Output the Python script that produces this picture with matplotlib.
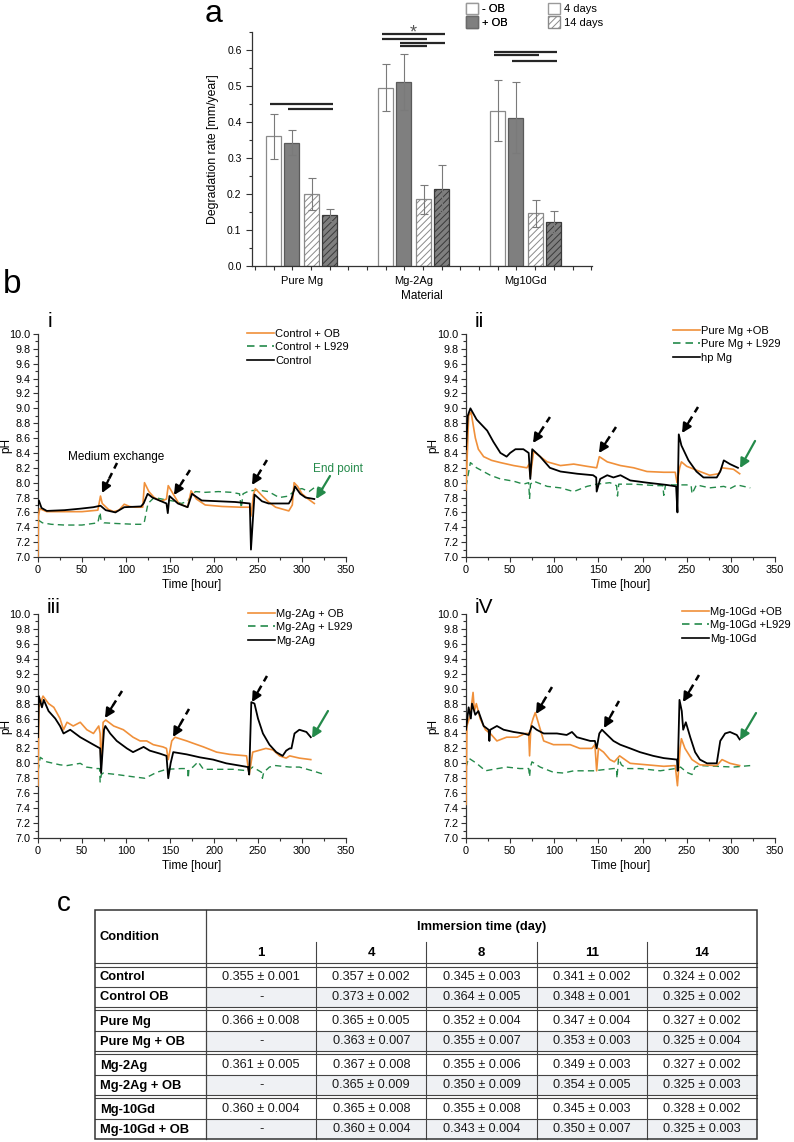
import matplotlib
matplotlib.use('Agg')
import matplotlib.pyplot as plt
from matplotlib.patches import Patch, Rectangle
from matplotlib.ticker import MultipleLocator, FixedLocator, FormatStrFormatter

plt.rcParams['font.family'] = ['Liberation Sans', 'DejaVu Sans']
plt.rcParams['hatch.linewidth'] = 0.7

# ---------------- DATA ----------------
# Panel a
materials = ['Pure Mg', 'Mg-2Ag', 'Mg10Gd']
rate_4d_noOB = [0.360, 0.495, 0.431]
err_4d_noOB = [0.063, 0.065, 0.085]
rate_4d_OB = [0.343, 0.511, 0.412]
err_4d_OB = [0.035, 0.078, 0.098]
rate_14d_noOB = [0.200, 0.185, 0.146]
err_14d_noOB = [0.045, 0.040, 0.038]
rate_14d_OB = [0.141, 0.215, 0.123]
err_14d_OB = [0.016, 0.066, 0.031]
# significance bars: (group, from bar, to bar, height)
sig_lines = [(0, 0, 3, 0.450), (0, 1, 3, 0.437),
             (1, 0, 3, 0.645), (1, 0, 2, 0.630), (1, 1, 3, 0.620), (1, 1, 2, 0.610),
             (2, 0, 3, 0.595), (2, 0, 2, 0.585), (2, 1, 3, 0.569)]

# Panel b (i) control
i_ob_t = [0, 0.5, 2, 10, 30, 50, 68, 71, 73, 80, 86, 92, 98, 104, 110, 119, 121, 126, 132, 140, 146, 148, 152, 160, 170,
          174, 180, 190, 209, 230, 241, 242, 245, 247, 255, 262, 270, 285, 289, 291, 295, 300, 307, 314]
i_ob_ph = [7.0, 7.55, 7.65, 7.61, 7.61, 7.61, 7.63, 7.82, 7.72, 7.64, 7.61, 7.63, 7.71, 7.68, 7.67, 7.67, 8.00, 7.88, 7.80,
           7.75, 7.78, 7.96, 7.88, 7.72, 7.67, 7.89, 7.78, 7.70, 7.68, 7.67, 7.67, 7.55, 7.85, 7.92, 7.82, 7.74, 7.67,
           7.62, 7.70, 8.00, 7.95, 7.85, 7.78, 7.72]
i_ctrl_t = [0, 1, 4, 10, 30, 48, 63, 71, 77, 88, 98, 117, 120, 124.6, 130, 140, 146, 147.5, 149.4, 159, 170, 175, 186, 205,
            224, 240.7, 242, 246, 254.5, 262, 285, 288, 292, 298, 304, 314]
i_ctrl_ph = [7.70, 7.76, 7.66, 7.62, 7.63, 7.65, 7.67, 7.69, 7.63, 7.60, 7.67, 7.68, 7.72, 7.85, 7.80, 7.75, 7.72, 7.59,
             7.82, 7.72, 7.67, 7.85, 7.76, 7.75, 7.74, 7.72, 7.10, 7.84, 7.75, 7.72, 7.72, 7.78, 7.95, 7.85, 7.80, 7.78]
i_l929_t = [0, 5, 15, 30, 50, 68, 70.5, 71.5, 75, 90, 110, 119, 121, 125, 132, 145, 155, 163, 170, 176, 179, 190, 205,
            220, 229, 231, 233, 240, 250, 262, 268, 274, 285, 292, 300, 308, 316, 327]
i_l929_ph = [7.50, 7.46, 7.44, 7.43, 7.43, 7.46, 7.60, 7.50, 7.46, 7.45, 7.44, 7.44, 7.48, 7.72, 7.80, 7.77, 7.75, 7.72,
             7.75, 7.85, 7.88, 7.87, 7.88, 7.87, 7.85, 7.66, 7.85, 7.89, 7.90, 7.88, 7.84, 7.80, 7.82, 7.90, 7.92, 7.88,
             7.95, 7.90]

# Panel b (ii) pure Mg
ii_ob_t = [0, 3, 5.7, 10.6, 14, 20, 29, 39, 54, 69, 71.5, 72.8, 76.6, 84, 92, 107, 122, 137, 148, 151, 160, 175, 190, 205,
           224, 237, 239, 242, 244, 250, 265, 276, 286, 290, 303, 310]
ii_ob_ph = [7.90, 8.90, 8.95, 8.60, 8.45, 8.35, 8.30, 8.27, 8.23, 8.20, 8.25, 8.08, 8.42, 8.35, 8.28, 8.23, 8.25, 8.22,
            8.20, 8.35, 8.28, 8.23, 8.20, 8.15, 8.14, 8.14, 8.00, 8.20, 8.28, 8.22, 8.15, 8.10, 8.12, 8.20, 8.18, 8.12]
ii_hp_t = [0, 2, 5, 12, 24, 31, 39, 46, 50, 56, 65, 71, 72.8, 75, 84, 95, 107, 126, 144, 147.5, 148, 152, 160, 167, 175,
           186, 205, 227, 238, 239.5, 241, 244, 252, 261, 269, 284, 288, 292, 299, 308]
ii_hp_ph = [8.45, 8.90, 9.00, 8.85, 8.70, 8.55, 8.40, 8.35, 8.40, 8.45, 8.45, 8.40, 8.05, 8.45, 8.35, 8.20, 8.15, 8.12,
            8.10, 8.07, 7.88, 8.05, 8.10, 8.07, 8.10, 8.03, 8.00, 7.97, 7.95, 7.60, 8.65, 8.50, 8.30, 8.15, 8.07, 8.07,
            8.15, 8.30, 8.25, 8.20]
ii_l929_t = [0, 5, 12, 27.5, 39, 54, 65, 71, 72, 73, 76.6, 92, 107, 122, 137, 148, 163, 170.5, 171.6, 173, 190, 216, 223,
             224, 226, 238, 250, 255, 256, 261, 276, 292, 299, 307, 322]
ii_l929_ph = [7.95, 8.27, 8.20, 8.10, 8.05, 8.02, 7.98, 8.00, 7.78, 7.98, 8.02, 7.95, 7.93, 7.88, 7.95, 7.98, 8.00, 7.96,
              7.82, 7.98, 7.98, 7.96, 7.96, 7.83, 7.97, 7.97, 7.97, 7.96, 7.85, 7.97, 7.93, 7.95, 7.92, 7.97, 7.93]

# Panel b (iii) Mg-2Ag
iii_ob_t = [0, 1, 5.7, 12, 18, 25, 29, 33, 40, 48, 55.5, 63, 69, 70.6, 71.7, 74, 77, 86, 97, 108, 116, 123.5, 131, 142,
            146, 148, 152, 155.6, 169, 176, 188, 203, 218, 237, 240, 244, 259, 267, 274.5, 282, 286, 297, 310]
iii_ob_ph = [7.70, 8.75, 8.90, 8.80, 8.75, 8.60, 8.45, 8.55, 8.50, 8.55, 8.45, 8.40, 8.50, 8.40, 7.95, 8.55, 8.58, 8.50,
             8.45, 8.35, 8.30, 8.30, 8.25, 8.22, 8.20, 8.05, 8.30, 8.35, 8.30, 8.27, 8.22, 8.15, 8.12, 8.10, 7.85, 8.15,
             8.20, 8.18, 8.10, 8.07, 8.10, 8.07, 8.05]
iii_ag_t = [0, 1, 4.5, 6.5, 12, 19.6, 25, 29, 36.6, 48, 55.5, 63, 70.6, 71.7, 75, 76.5, 82, 89.5, 101, 108, 120, 127,
            138.6, 146, 148, 150.7, 153.7, 169, 184, 199, 214, 229, 238.6, 240, 242.4, 246, 250, 255.6, 263, 270.7, 278,
            282, 286, 288, 291.5, 297, 305, 310]
iii_ag_ph = [8.35, 8.90, 8.75, 8.85, 8.70, 8.60, 8.50, 8.40, 8.45, 8.35, 8.30, 8.25, 8.20, 7.87, 8.45, 8.50, 8.40, 8.30,
             8.20, 8.15, 8.22, 8.17, 8.13, 8.10, 7.80, 8.00, 8.15, 8.12, 8.08, 8.05, 8.00, 7.97, 7.95, 7.85, 8.82, 8.80,
             8.60, 8.40, 8.25, 8.15, 8.10, 8.17, 8.20, 8.20, 8.40, 8.45, 8.42, 8.35]
iii_l929_t = [0, 2.6, 10, 25, 33, 48, 55, 67, 70, 70.6, 72, 74, 89.5, 108, 121.6, 135, 146, 163, 170, 170.7, 171.5, 176,
              182, 188, 222, 238.6, 244, 254, 255, 256.5, 263, 270, 286, 297, 312, 325.5]
iii_l929_ph = [7.90, 8.08, 8.02, 7.98, 7.97, 8.00, 7.95, 7.93, 7.93, 7.75, 7.85, 7.87, 7.85, 7.82, 7.80, 7.88, 7.92, 7.93,
               7.93, 7.80, 7.92, 7.95, 8.02, 7.92, 7.92, 7.90, 7.95, 7.88, 7.80, 7.88, 7.95, 7.97, 7.95, 7.95, 7.90, 7.85]

# Panel b (iv) Mg-10Gd
iv_ob_t = [0, 1, 5, 8, 9.5, 11.7, 16, 22, 27.5, 35, 46, 58, 67, 71, 72, 73.5, 76, 78.5, 83, 88, 99, 118, 129, 142.6, 146,
           148, 150, 155.8, 163, 168, 174, 186, 205, 224, 237, 239.5, 242.5, 244, 248, 256, 265, 284, 290, 299, 310]
iv_ob_ph = [7.45, 8.50, 8.65, 8.95, 8.70, 8.80, 8.60, 8.45, 8.40, 8.30, 8.35, 8.35, 8.40, 8.40, 8.10, 8.50, 8.60, 8.68,
            8.50, 8.30, 8.25, 8.25, 8.20, 8.20, 8.25, 7.90, 8.20, 8.15, 8.05, 8.02, 8.10, 8.00, 7.98, 7.96, 7.97, 7.70,
            8.20, 8.33, 8.20, 8.05, 7.98, 7.97, 8.05, 8.00, 7.97]
iv_gd_t = [0, 3, 5.5, 6.8, 10.5, 14, 20, 25.6, 26.5, 27.5, 35, 42.6, 54, 65, 71, 74.7, 80, 88, 103, 114, 120, 125.6,
           140.7, 146, 148, 151, 154, 160, 167, 174.6, 186, 197, 212, 224, 239, 239.8, 241.8, 244.4, 246, 249, 254,
           259.5, 265, 273, 284, 286, 288, 293.5, 299, 306.7, 310]
iv_gd_ph = [8.45, 8.75, 8.60, 8.80, 8.65, 8.70, 8.50, 8.45, 8.30, 8.45, 8.50, 8.45, 8.42, 8.40, 8.38, 8.50, 8.45, 8.40,
            8.40, 8.38, 8.42, 8.35, 8.30, 8.30, 8.20, 8.40, 8.45, 8.38, 8.30, 8.25, 8.20, 8.15, 8.10, 8.07, 8.05, 7.90,
            8.85, 8.70, 8.45, 8.55, 8.35, 8.15, 8.05, 8.00, 8.00, 8.15, 8.30, 8.40, 8.42, 8.38, 8.32]
iv_l929_t = [0, 3, 12, 22, 31, 46, 61, 71, 72, 73, 74.7, 84, 99, 110.5, 122, 144.5, 167, 170.5, 171, 172.8, 176, 182,
             197, 220, 237, 243, 250, 256, 259.5, 265, 284, 303, 322]
iv_l929_ph = [7.95, 8.07, 8.00, 7.90, 7.92, 7.95, 7.93, 7.93, 7.82, 7.95, 8.02, 7.95, 7.88, 7.87, 7.90, 7.90, 7.93, 7.93,
              7.80, 8.07, 7.98, 7.93, 7.93, 7.90, 7.93, 7.95, 7.88, 7.85, 7.95, 7.97, 7.96, 7.95, 7.97]

# Panel c table
conditions = ['Control', 'Control OB', 'Pure Mg', 'Pure Mg + OB', 'Mg-2Ag', 'Mg-2Ag + OB', 'Mg-10Gd', 'Mg-10Gd + OB']
days = [1, 4, 8, 11, 14]
day1_mean = [0.355, None, 0.366, None, 0.361, None, 0.360, None]
day1_sd = [0.001, None, 0.008, None, 0.005, None, 0.004, None]
day4_mean = [0.357, 0.373, 0.365, 0.363, 0.367, 0.365, 0.365, 0.360]
day4_sd = [0.002, 0.002, 0.005, 0.007, 0.008, 0.009, 0.008, 0.004]
day8_mean = [0.345, 0.364, 0.352, 0.355, 0.355, 0.350, 0.355, 0.343]
day8_sd = [0.003, 0.005, 0.004, 0.007, 0.006, 0.009, 0.008, 0.004]
day11_mean = [0.341, 0.348, 0.347, 0.353, 0.349, 0.354, 0.345, 0.350]
day11_sd = [0.002, 0.001, 0.004, 0.003, 0.003, 0.005, 0.003, 0.007]
day14_mean = [0.324, 0.325, 0.327, 0.325, 0.327, 0.325, 0.328, 0.325]
day14_sd = [0.002, 0.002, 0.002, 0.004, 0.002, 0.003, 0.002, 0.003]

# ---------------- FIGURE ----------------
W, H = 794, 1142
fig = plt.figure(figsize=(W / 100, H / 100), dpi=100)


def px_axes(l, t, r, b):
    return fig.add_axes([l / W, 1 - b / H, (r - l) / W, (b - t) / H])


def fxy(x, y):
    return (x / W, 1 - y / H)


ORANGE = '#f0903a'
GREEN = '#248a4a'
AXC = '#333333'

# ---------- panel a ----------
axa = px_axes(252, 32, 592, 266)
offs = [-0.25, -0.089, 0.089, 0.25]
bw = 0.134
xs = list(range(len(materials)))
ekw = dict(ecolor='#7a7a7a', elinewidth=0.8, capsize=3, capthick=0.8)
series = [
    (rate_4d_noOB, err_4d_noOB, 'white', '#8a8a8a', None),
    (rate_4d_OB, err_4d_OB, '#7f7f7f', '#5a5a5a', None),
    (rate_14d_noOB, err_14d_noOB, 'white', '#8a8a8a', '/////'),
    (rate_14d_OB, err_14d_OB, '#7f7f7f', '#3a3a3a', '/////'),
]
for k, (vals, errs, fc, ec, hatch) in enumerate(series):
    axa.bar([x + offs[k] for x in xs], vals, bw, color=fc, edgecolor=ec, hatch=hatch, linewidth=0.9,
            yerr=errs, error_kw=ekw, zorder=2)
for g, i0, i1, yv in sig_lines:
    axa.plot([g + offs[i0] - 0.03, g + offs[i1] + 0.03], [yv, yv], color='#262626', lw=1.6, clip_on=False,
             solid_capstyle='butt')
axa.text(1.0, 0.648, '*', ha='center', va='center', fontsize=13, color='#555', clip_on=False)
axa.set_xlim(-0.442, 2.59)
axa.set_ylim(0, 0.65)
axa.set_xticks(xs)
axa.set_xticklabels(materials, fontsize=8)
axa.xaxis.set_minor_locator(FixedLocator([(2 * k + 1) / 12 for k in range(-5, 31)]))
axa.tick_params(axis='x', which='major', length=0, pad=7)
axa.tick_params(axis='x', which='minor', length=3, width=0.8, color=AXC)
axa.yaxis.set_major_locator(MultipleLocator(0.1))
axa.yaxis.set_minor_locator(MultipleLocator(0.05))
axa.yaxis.set_major_formatter(FormatStrFormatter('%.1f'))
axa.tick_params(axis='y', which='major', length=4, width=0.8, labelsize=7.5, color=AXC)
axa.tick_params(axis='y', which='minor', length=2, width=0.8, color=AXC)
for s in ['top', 'right']:
    axa.spines[s].set_visible(False)
for s in ['left', 'bottom']:
    axa.spines[s].set_color(AXC)
    axa.spines[s].set_linewidth(0.9)
axa.set_ylabel('Degradation rate [mm/year]', fontsize=8.8, labelpad=6)
axa.set_xlabel('Material', fontsize=8.5, labelpad=3)

leg1 = fig.legend(handles=[Patch(facecolor='white', edgecolor='#9a9a9a'),
                           Patch(facecolor='#7f7f7f', edgecolor='#6a6a6a')],
                  labels=['- OB', '+ OB'], loc='upper left', bbox_to_anchor=fxy(466, 3), frameon=False,
                  fontsize=8, handlelength=1.1, handleheight=1.2, handletextpad=0.35, labelspacing=0.15,
                  borderpad=0, borderaxespad=0)
leg2 = fig.legend(handles=[Patch(facecolor='white', edgecolor='#9a9a9a'),
                           Patch(facecolor='white', edgecolor='#8a8a8a', hatch='/////')],
                  labels=['4 days', '14 days'], loc='upper left', bbox_to_anchor=fxy(548, 3), frameon=False,
                  fontsize=8, handlelength=1.1, handleheight=1.2, handletextpad=0.35, labelspacing=0.15,
                  borderpad=0, borderaxespad=0)
fig.add_artist(leg1)

fig.text(*fxy(205, 22), 'a', fontsize=23, ha='left', va='baseline')
fig.text(*fxy(3, 293), 'b', fontsize=24, ha='left', va='baseline')
fig.text(*fxy(57, 911), 'c', fontsize=20, ha='left', va='baseline')


# ---------- panel b ----------
def arrow(ax, tail, head, color='k', dashed=True):
    if dashed:
        mid = (tail[0] + 0.55 * (head[0] - tail[0]), tail[1] + 0.55 * (head[1] - tail[1]))
        ax.plot([tail[0], mid[0]], [tail[1], mid[1]], color=color, lw=1.8, ls=(0, (2.5, 2)),
                solid_capstyle='butt')
        start = mid
    else:
        start = tail
    ax.annotate('', xy=head, xytext=start,
                arrowprops=dict(arrowstyle='-|>,head_length=0.55,head_width=0.28', color=color, lw=1.6,
                                shrinkA=0, shrinkB=0))


def ph_panel(box, ob, l929, plain, labels, numeral, npos, legpos, arrows, green, ylab_x):
    ax = px_axes(*box)
    ax.plot(ob[0], ob[1], color=ORANGE, lw=1.2, label=labels[0], zorder=3)
    ax.plot(l929[0], l929[1], color=GREEN, lw=1.0, ls=(0, (4.5, 3)), label=labels[1], zorder=2)
    ax.plot(plain[0], plain[1], color='k', lw=1.3, label=labels[2], zorder=4)
    ax.set_xlim(0, 350)
    ax.set_ylim(7.0, 10.0)
    ax.xaxis.set_major_locator(MultipleLocator(50))
    ax.xaxis.set_minor_locator(MultipleLocator(25))
    ax.yaxis.set_major_locator(MultipleLocator(0.2))
    ax.yaxis.set_minor_locator(MultipleLocator(0.1))
    ax.yaxis.set_major_formatter(FormatStrFormatter('%.1f'))
    ax.tick_params(which='major', length=3.5, width=0.8, labelsize=7.8, color=AXC, pad=2)
    ax.tick_params(which='minor', length=2, width=0.8, color=AXC)
    for s in ['top', 'right']:
        ax.spines[s].set_visible(False)
    for s in ['left', 'bottom']:
        ax.spines[s].set_color(AXC)
        ax.spines[s].set_linewidth(0.9)
    ax.set_xlabel('Time [hour]', fontsize=8.5, labelpad=3)
    ax.set_ylabel('pH', fontsize=8.5)
    ax.yaxis.set_label_coords(ylab_x, 0.5)
    leg = ax.legend(loc='upper left', bbox_to_anchor=fxy(*legpos), bbox_transform=fig.transFigure, frameon=False,
                    fontsize=8, handlelength=2.45, handletextpad=0.1, labelspacing=0.3, borderpad=0,
                    borderaxespad=0)
    for ln in leg.get_lines():
        ln.set_linewidth(1.2)
    fig.text(*fxy(*npos), numeral, fontsize=15, ha='left', va='baseline')
    for tail, head in arrows:
        arrow(ax, tail, head)
    arrow(ax, green[0], green[1], color=GREEN, dashed=False)
    return ax


ax1 = ph_panel((38, 334, 346, 557), (i_ob_t, i_ob_ph), (i_l929_t, i_l929_ph), (i_ctrl_t, i_ctrl_ph),
               ['Control + OB', 'Control + L929', 'Control'], 'i', (48, 327), (247, 329),
               [((89.8, 8.265), (72.7, 7.861)), ((172.7, 8.17), (154.5, 7.834)), ((260.2, 8.305), (243.2, 7.969))],
               ((331.8, 8.09), (316.0, 7.78)), -0.082)
ax1.text(34, 8.345, 'Medium exchange', fontsize=8.5, ha='left', va='center')
ax1.text(341, 8.18, 'End point', fontsize=8.5, ha='center', va='center', color=GREEN)

ax2 = ph_panel((466, 334, 775, 557), (ii_ob_t, ii_ob_ph), (ii_l929_t, ii_l929_ph), (ii_hp_t, ii_hp_ph),
               ['Pure Mg +OB', 'Pure Mg + L929', 'hp Mg'], 'ii', (475, 327), (673, 326),
               [((95.1, 8.883), (75.9, 8.534)), ((169.9, 8.749), (150.6, 8.399)), ((262.8, 9.018), (244.7, 8.668))],
               ((327.4, 8.561), (310.4, 8.197)), -0.085)

ax3 = ph_panel((38, 614, 346, 838), (iii_ob_t, iii_ob_ph), (iii_l929_t, iii_l929_ph), (iii_ag_t, iii_ag_ph),
               ['Mg-2Ag + OB', 'Mg-2Ag + L929', 'Mg-2Ag'], 'iii', (47, 613), (248, 609),
               [((95.5, 8.969), (76.1, 8.607)), ((171.6, 8.728), (153.4, 8.353)), ((260.2, 9.17), (243.2, 8.821))],
               ((329.5, 8.701), (311.4, 8.339)), -0.082)

ax4 = ph_panel((466, 614, 775, 838), (iv_ob_t, iv_ob_ph), (iv_l929_t, iv_l929_ph), (iv_gd_t, iv_gd_ph),
               ['Mg-10Gd +OB', 'Mg-10Gd +L929', 'Mg-10Gd'], 'iV', (475, 613), (682, 607),
               [((97.4, 9.022), (79.3, 8.661)), ((173.3, 8.835), (156.3, 8.473)), ((263.9, 9.183), (245.8, 8.821))],
               ((328.5, 8.674), (310.4, 8.312)), -0.085)

# ---------- panel c (table) ----------
T_L, T_R, T_TOP, T_BOT = 95, 757, 910, 1139
axt = px_axes(T_L, T_TOP, T_R, T_BOT)
axt.set_xlim(T_L, T_R)
axt.set_ylim(T_BOT, T_TOP)
axt.axis('off')
LC = '#444444'
col_edges = [T_L, 206] + [206 + (T_R - 206) * k / 5 for k in range(1, 6)]
row_h, grp_gap, first_top = 20.0, 4.0, 967.0
row_tops = [first_top + (r // 2) * (2 * row_h + grp_gap) + (r % 2) * row_h for r in range(len(conditions))]
means = [day1_mean, day4_mean, day8_mean, day11_mean, day14_mean]
sds = [day1_sd, day4_sd, day8_sd, day11_sd, day14_sd]

for r, cond in enumerate(conditions):
    top = row_tops[r]
    if r % 2 == 1:
        axt.add_patch(Rectangle((col_edges[1], top), T_R - col_edges[1], row_h, facecolor='#eff1f4',
                                edgecolor='none', zorder=0))
    axt.text(col_edges[0] + 5, top + row_h / 2 + 0.5, cond, fontsize=9.3, fontweight='bold', ha='left',
             va='center')
    for c in range(len(days)):
        m, s = means[c][r], sds[c][r]
        txt = '-' if m is None else f'{m:.3f} \u00b1 {s:.3f}'
        axt.text((col_edges[c + 1] + col_edges[c + 2]) / 2, top + row_h / 2 + 0.5, txt, fontsize=9.2,
                 ha='center', va='center', color='#1a1a1a')
    if r % 2 == 0:
        axt.plot([T_L, T_R], [top + row_h, top + row_h], color=LC, lw=0.8, clip_on=False)
    elif r < len(conditions) - 1:
        axt.plot([T_L, T_R], [top + row_h, top + row_h], color=LC, lw=0.8, clip_on=False)
        axt.plot([T_L, T_R], [top + row_h + 3, top + row_h + 3], color=LC, lw=0.8, clip_on=False)

# header
axt.plot([T_L, T_R], [963, 963], color=LC, lw=0.8, clip_on=False)
axt.plot([T_L, T_R], [966.5, 966.5], color=LC, lw=0.8, clip_on=False)
axt.text(col_edges[0] + 5, 937, 'Condition', fontsize=9.3, fontweight='bold', ha='left', va='center')
axt.text((col_edges[1] + T_R) / 2, 927, 'Immersion time (day)', fontsize=9.3, fontweight='bold', ha='center',
         va='center')
for c, d in enumerate(days):
    axt.text((col_edges[c + 1] + col_edges[c + 2]) / 2, 953, str(d), fontsize=9.5, fontweight='bold',
             ha='center', va='center')
axt.plot([col_edges[1], col_edges[1]], [T_TOP, T_BOT], color=LC, lw=0.9, clip_on=False)
for xe in col_edges[2:-1]:
    axt.plot([xe, xe], [942, T_BOT], color=LC, lw=0.8, clip_on=False)
axt.add_patch(Rectangle((T_L, T_TOP), T_R - T_L, T_BOT - T_TOP, facecolor='none', edgecolor='#333333', lw=1.1,
                        clip_on=False, zorder=5))

fig.savefig('out.png', dpi=100)
